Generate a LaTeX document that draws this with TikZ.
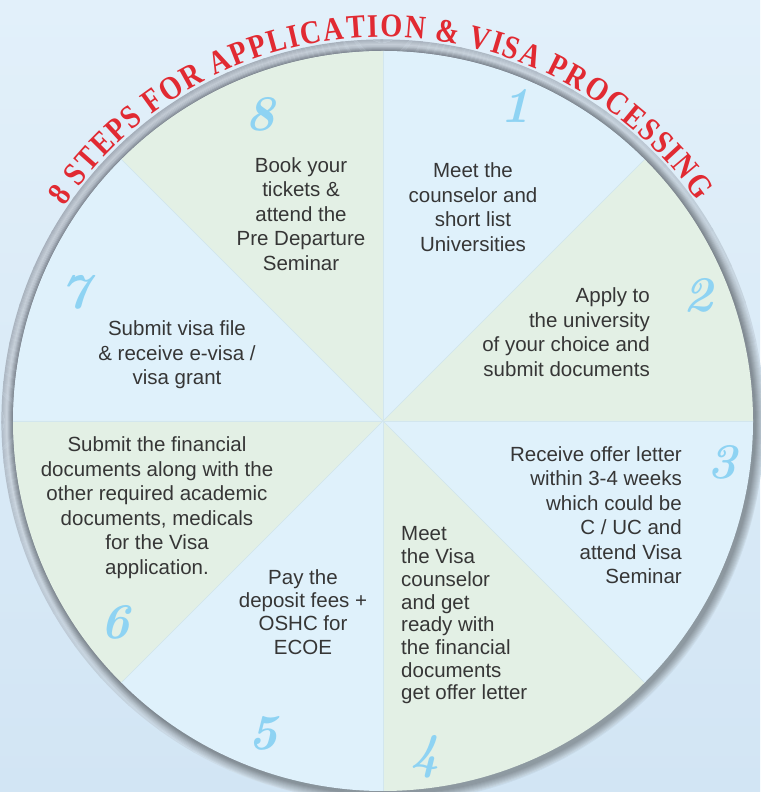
\documentclass[tikz,border=0pt]{standalone}
\usepackage{fontspec}
\setmainfont{Liberation Sans}
\newfontfamily\titlefont{Liberation Serif}[FakeStretch=0.86]
\newfontfamily\digitfont{Latin Modern Roman}
\usetikzlibrary{decorations.text}
\definecolor{bgtop}{HTML}{E2F0FA}
\definecolor{bgbot}{HTML}{D2E5F4}
\definecolor{bgmid}{HTML}{DAEBF7}
\definecolor{secblue}{HTML}{DFF1FB}
\definecolor{secgreen}{HTML}{E3F0E5}
\definecolor{rimdark}{HTML}{8A94A1}
\definecolor{rimlight}{HTML}{C2CAD3}
\definecolor{titlered}{HTML}{E12A32}
\definecolor{numblue}{HTML}{8ED3F3}
\definecolor{txt}{HTML}{363636}
\definecolor{divline}{HTML}{D2E6EE}
\begin{document}
\begin{tikzpicture}[x=1pt,y=1pt,
  stepnum/.style={font=\digitfont\bfseries\itshape\fontsize{50}{50}\selectfont, text=numblue, inner sep=0pt},
  steptext/.style={font=\fontsize{20.5}{24.5}\selectfont, text=txt, inner sep=0pt},
]
\useasboundingbox (0,0) rectangle (760,792);
\shade[top color=bgtop, bottom color=bgbot] (0,0) rectangle (760,792);
\coordinate (C) at (383,371);
% rim, strongest at the upper left, fading towards the lower right
\foreach \k in {0,...,10} {
  \pgfmathsetmacro\r{370.5+\k*1.05}
  \pgfmathsetmacro\p{100-abs(\k-6)*13}
  \foreach \a in {0,6,...,354} {
    \pgfmathsetmacro\v{100*(1+cos(\a+3-125))/2}
    \colorlet{rimk}{rimlight!\p!rimdark}
    \draw[line width=1.25pt, color=rimk!\v!bgmid]
      ([shift={(\a:\r pt)}]C) arc[start angle=\a, end angle=\a+6.4, radius=\r pt];
  }
}
% drop shadow
\foreach \i in {1,...,9}
  \fill[black, opacity=0.045] (386,367) circle[radius=369pt+\i pt];
% sectors
\foreach \k/\c in {0/secgreen,1/secblue,2/secgreen,3/secblue,4/secgreen,5/secblue,6/secgreen,7/secblue} {
  \pgfmathsetmacro\a{\k*45}
  \fill[\c] (C) -- ++(\a:370pt) arc[start angle=\a, end angle=\a+45, radius=370pt] -- cycle;
}
\foreach \a in {0,45,...,315}
  \draw[divline, line width=0.5pt] (C) -- ++(\a:370pt);
% title
\path[decorate, decoration={text effects along path,
  text={8{\ }STEPS{\ }FOR{\ }APPLICATION{\ }{\&}{\ }VISA{\ }PROCESSING},
  text effects/.cd, fit text to path,
  characters={text along path, font=\titlefont\bfseries\fontsize{33}{33}\selectfont, text=titlered}}]
  ([shift={(146:384pt)}]C) arc[start angle=146, end angle=35, radius=384pt];
% step texts
\node[steptext, align=center] (t1) at (473,585) {Meet the\\counselor and\\short list\\Universities};
\node[steptext, align=right, anchor=east] (t2) at (650,460) {Apply to\\the university\\of your choice and\\submit documents};
\node[steptext, align=right, anchor=east] (t3) at (682,277) {Receive offer letter\\within 3-4 weeks\\which could be\\C / UC and\\attend Visa\\Seminar};
\node[steptext, font=\fontsize{20.5}{22.7}\selectfont, align=left, anchor=west] (t4) at (401,176.5) {Meet\\the Visa\\counselor\\and get\\ready with\\the financial\\documents\\get offer letter};
\node[steptext, font=\fontsize{20.5}{23.3}\selectfont, align=center] (t5) at (303,180) {Pay the\\deposit fees +\\OSHC for\\ECOE};
\node[steptext, align=center] (t6) at (157,284.5) {Submit the financial\\documents along with the\\other required academic\\documents, medicals\\for the Visa\\application.};
\node[steptext, align=center] (t7) at (177,437) {Submit visa file\\\& receive e-visa /\\visa grant};
\node[steptext, align=center] (t8) at (301,578) {Book your\\tickets \&\\attend the\\Pre Departure\\Seminar};
% step numbers
\node[stepnum] (n1) at (515,686) {1};
\node[stepnum] (n2) at (698,497) {2};
\node[stepnum] (n3) at (722,330) {3};
\node[stepnum] (n4) at (425,35) {4};
\node[stepnum] (n5) at (263,59) {5};
\node[stepnum] (n6) at (115,170) {6};
\node[stepnum] (n7) at (75,500) {7};
\node[stepnum] (n8) at (260,678) {8};
\end{tikzpicture}
\end{document}
